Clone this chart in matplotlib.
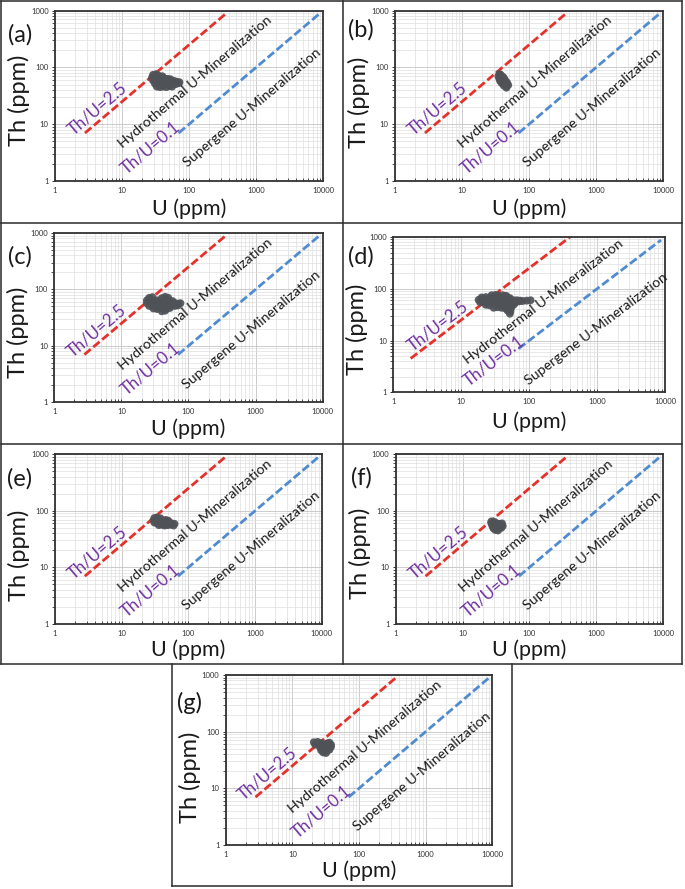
import math
import matplotlib
matplotlib.use("Agg")
import matplotlib.pyplot as plt
import matplotlib.ticker as mticker
from matplotlib.lines import Line2D

plt.rcParams['font.family'] = ['Lato', 'DejaVu Sans']

W, H = 685, 889

# Th/U = 2.5 and Th/U = 0.1 reference lines
red_u = [2.8, 350]
red_th = [7, 875]
red_u_d = [1.8, 400]
red_th_d = [4.5, 1000]
blue_u = [70, 8750]
blue_th = [7, 875]

x_ticks = [1, 10, 100, 1000, 10000]
x_labels = ['1', '10', '100', '1000', '10000']
y_ticks = [1, 10, 100, 1000]
y_labels = ['1', '10', '100', '1000']

# U / Th (ppm) samples
u_a = [29, 32, 35, 40,
       28, 31, 35, 39, 43, 48, 53,
       29, 32, 36, 40, 44, 49, 54, 60, 66, 72,
       31, 35, 39, 43, 48, 53, 58, 64, 70,
       33, 37, 41, 46, 51, 56]
th_a = [74, 76, 72, 70,
        66, 67, 65, 66, 64, 63, 62,
        59, 58, 60, 59, 58, 59, 57, 58, 56, 55,
        52, 53, 51, 52, 52, 50, 52, 51, 53,
        46, 45, 46, 45, 47, 46]

u_b = [36, 38,
       35, 38, 41,
       36, 40, 43,
       37, 41, 45,
       39, 43, 47,
       42, 46, 49,
       46]
th_b = [77, 74,
        70, 71, 68,
        64, 65, 63,
        58, 59, 57,
        53, 52, 54,
        48, 47, 49,
        44]

u_c = [26, 29, 40, 45, 50,
       24, 27, 30, 34, 38, 42, 47, 52, 58,
       24, 27, 30, 34, 38, 42, 47, 52, 58, 64, 71, 76,
       26, 29, 33, 37, 41, 46, 51, 57, 63, 70,
       30, 34, 38, 43, 48, 53,
       40, 45]
th_c = [71, 73, 70, 74, 71,
        64, 65, 63, 64, 63, 65, 64, 63, 62,
        57, 58, 56, 57, 58, 57, 56, 57, 58, 57, 56, 57,
        51, 52, 50, 51, 52, 50, 51, 52, 51, 52,
        46, 45, 46, 45, 46, 47,
        41, 42]

u_d = [28, 32, 36, 41, 46,
       20, 23, 26, 29, 33, 37, 42, 47, 52,
       18, 20, 23, 26, 29, 33, 37, 42, 47, 53, 59, 66, 74,
       19, 22, 25, 28, 32, 36, 40, 45, 50, 56, 63, 70, 80, 92, 105,
       23, 26, 30, 34, 38, 43, 48, 54, 60,
       30, 34, 39, 44, 50, 55,
       48, 53,
       52]
th_d = [75, 76, 74, 75, 73,
        68, 69, 67, 68, 69, 68, 67, 68, 66,
        61, 62, 60, 61, 62, 61, 60, 61, 62, 61, 60, 60, 59,
        55, 54, 55, 56, 54, 55, 56, 54, 55, 56, 55, 57, 58, 59, 60,
        49, 48, 50, 49, 48, 49, 50, 48, 50,
        43, 44, 43, 42, 43, 44,
        38, 37,
        33]

u_e = [31, 34, 38,
       30, 33, 37, 41, 46, 50,
       31, 34, 38, 42, 47, 52, 57, 62,
       36, 40, 44, 49, 54, 60]
th_e = [75, 76, 74,
        68, 69, 67, 68, 69, 67,
        62, 61, 63, 62, 61, 62, 60, 59,
        56, 57, 55, 56, 57, 55]

u_f = [27, 30,
       27, 30, 33, 36, 39,
       28, 31, 34, 37, 40,
       29, 32, 35, 38,
       31, 34]
th_f = [65, 64,
        60, 59, 60, 59, 60,
        54, 55, 54, 55, 54,
        49, 50, 49, 50,
        46, 45]

u_g = [21, 24, 27, 33, 36,
       22, 25, 28, 31, 34, 38,
       26, 29, 32, 35, 38,
       27, 30, 33, 36,
       29, 32]
th_g = [65, 66, 63, 62, 64,
        59, 58, 60, 59, 58, 59,
        53, 54, 53, 52, 54,
        47, 48, 47, 48,
        43, 42]

# label positions (U, Th)
txt_pos = {'r25': (4.3, 18.5), 'hyd': (125, 55), 'r01': (27, 3.9), 'sup': (880, 19.5)}
txt_pos_d = {'r25': (4.6, 19.5), 'hyd': (165, 57), 'r01': (30, 4.0), 'sup': (980, 17)}

# panel: letter, axes box in px (left, right, top, bottom), data, ylabel shift, xlabel drop
panels = [
    ('(a)', (55, 323, 10.7, 181), u_a, th_a, 4, 34, (-35, -24)),
    ('(b)', (395, 663, 10.7, 181), u_b, th_b, 6, 34, (-34, -19)),
    ('(c)', (54.3, 322.6, 233, 402.3), u_c, th_c, 15, 33, (-34, -23.5)),
    ('(d)', (393.3, 665, 237, 392.3), u_d, th_d, 15, 36, (-32, -19.5)),
    ('(e)', (55, 321.7, 454.3, 624), u_e, th_e, 16, 32, (-35, -25)),
    ('(f)', (395.7, 663, 454.3, 624), u_f, th_f, 14, 32, (-34.7, -24)),
    ('(g)', (225.7, 492.3, 675, 845), u_g, th_g, 17, 32, (-36, -27.5)),
]

fig = plt.figure(figsize=(W / 100, H / 100), dpi=100)
px = 0.72  # pixels -> points

for letter, (l, r, t, b), us, ths, yshift, xdrop, loff in panels:
    ax = fig.add_axes([l / W, 1 - b / H, (r - l) / W, (b - t) / H])
    ax.set_xscale('log')
    ax.set_yscale('log')
    ax.set_xlim(1, 10000)
    ax.set_ylim(1, 1000)

    ax.grid(True, which='major', color='#c4c4c4', lw=0.6)
    ax.grid(True, which='minor', color='#dedede', lw=0.5)
    ax.set_axisbelow(True)

    ax.xaxis.set_major_locator(mticker.FixedLocator(x_ticks))
    ax.xaxis.set_major_formatter(mticker.FixedFormatter(x_labels))
    ax.yaxis.set_major_locator(mticker.FixedLocator(y_ticks))
    ax.yaxis.set_major_formatter(mticker.FixedFormatter(y_labels))
    ax.xaxis.set_minor_locator(mticker.LogLocator(base=10, subs=range(2, 10)))
    ax.yaxis.set_minor_locator(mticker.LogLocator(base=10, subs=range(2, 10)))
    ax.xaxis.set_minor_formatter(mticker.NullFormatter())
    ax.yaxis.set_minor_formatter(mticker.NullFormatter())
    ax.tick_params(axis='x', which='both', direction='in', labelsize=5.5,
                   colors='#333333', pad=4)
    ax.tick_params(axis='y', which='both', direction='out', labelsize=5.5,
                   colors='#333333', pad=2)
    ax.tick_params(which='major', length=2.5, width=0.7)
    ax.tick_params(which='minor', length=2, width=0.6)
    for sp in ax.spines.values():
        sp.set_color('#333333')
        sp.set_linewidth(1.3)

    if letter == '(d)':
        ax.plot(red_u_d, red_th_d, color='#e4322b', lw=2, dashes=(3, 1.2))
        tp = txt_pos_d
    else:
        ax.plot(red_u, red_th, color='#e4322b', lw=2, dashes=(3, 1.2))
        tp = txt_pos
    ax.plot(blue_u, blue_th, color='#4f8bcf', lw=2, dashes=(3, 1.2))

    ax.scatter(us, ths, s=32, color='#4f5358', edgecolors='none', alpha=0.92, zorder=3)

    p1 = ax.transData.transform((1, 1))
    p2 = ax.transData.transform((1000, 1000))
    ang = math.degrees(math.atan2(p2[1] - p1[1], p2[0] - p1[0]))
    kw = dict(rotation=ang, rotation_mode='anchor', ha='center', va='center')
    ax.text(*tp['r25'], 'Th/U=2.5', color='#7030a0', fontsize=12, **kw)
    ax.text(*tp['hyd'], 'Hydrothermal U-Mineralization', color='#1a1a1a', fontsize=10.3, **kw)
    ax.text(*tp['r01'], 'Th/U=0.1', color='#7030a0', fontsize=12, **kw)
    ax.text(*tp['sup'], 'Supergene U-Mineralization', color='#1a1a1a', fontsize=10.3, **kw)

    ax.annotate(letter, xy=(0, 1), xycoords='axes fraction',
                xytext=(loff[0] * px, loff[1] * px), textcoords='offset points',
                ha='center', va='center', fontsize=17, color='#1a1a1a')
    ax.annotate('Th (ppm)', xy=(0, 0.5), xycoords='axes fraction',
                xytext=(-36 * px, -yshift * px), textcoords='offset points',
                ha='center', va='center', rotation=90, fontsize=17, color='#1a1a1a')
    ax.annotate('U (ppm)', xy=(0.5, 0), xycoords='axes fraction',
                xytext=(0, -xdrop * px), textcoords='offset points',
                ha='center', va='baseline', fontsize=15.5, color='#1a1a1a')

# panel frames
def frame(x0, y0, x1, y1):
    fig.add_artist(Line2D([x0 / W, x1 / W], [1 - y0 / H, 1 - y1 / H],
                          transform=fig.transFigure, color='#2a2a2a', lw=1.1))

frame(1, 1, 682, 1)
frame(1, 1, 1, 664)
frame(682, 1, 682, 664)
frame(342.7, 1, 342.7, 664)
frame(1, 222.7, 682, 222.7)
frame(1, 444, 682, 444)
frame(1, 664, 682, 664)
frame(172, 664, 172, 886)
frame(512, 664, 512, 886)
frame(172, 886, 512, 886)

fig.savefig('out.png', dpi=100)
